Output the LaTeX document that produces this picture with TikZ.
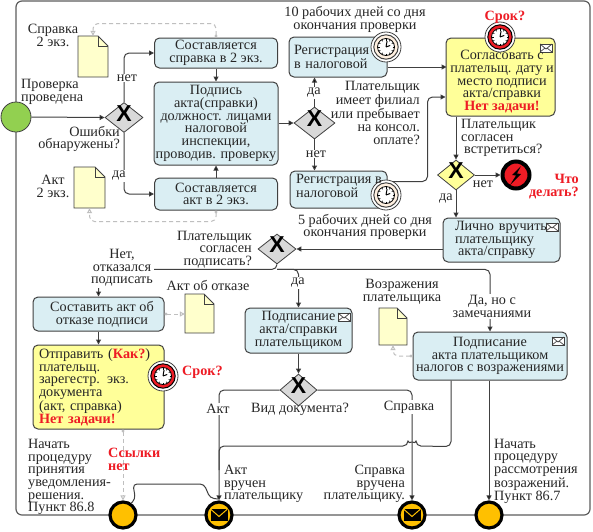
\documentclass[tikz,border=0pt]{standalone}
\usepackage{fontspec}
\setmainfont{Liberation Serif}
\newfontfamily\xfont{Liberation Sans}
\usetikzlibrary{shapes.geometric,arrows.meta,calc}
\definecolor{ln}{HTML}{404040}
\definecolor{tsk}{HTML}{DAEEF3}
\definecolor{yel}{HTML}{FFFF99}
\definecolor{docy}{HTML}{FFFFCC}
\definecolor{gat}{HTML}{D9D9D9}
\definecolor{amb}{HTML}{FFC000}
\definecolor{rd}{HTML}{EE1C25}
\definecolor{grn}{HTML}{92D050}
\definecolor{dsh}{HTML}{BFBFBF}
\newcommand\rtx[1]{\textcolor{rd}{\textbf{#1}}}
\newcommand\gwx{\raisebox{-.36em}[0pt][0pt]{\makebox[0pt]{\xfont\bfseries\fontsize{23}{23}\selectfont X}}}
\tikzset{
  base/.style={font=\fontsize{14.2}{12.7}\selectfont,text=black!85},
  tx/.style={base,inner sep=0pt,align=center},
  txl/.style={base,inner sep=0pt,align=left},
  txr/.style={base,inner sep=0pt,align=right},
  cut/.style={base,inner sep=1pt,align=center,fill=white},
  alrt/.style={base,inner sep=0pt},
  taskbox/.style={base,draw=ln,line width=1pt,rounded corners=5pt,fill=tsk,inner sep=0pt,align=center},
  yelbox/.style={taskbox,fill=yel},
  leftbox/.style={inner xsep=5pt,align=left},
  gway/.style={diamond,draw=ln,line width=.8pt,fill=gat,aspect=1.25,inner sep=0pt,minimum width=38pt,minimum height=30pt},
  ygway/.style={gway,fill=yel},
  flow/.style={draw=ln,line width=1pt,rounded corners=5pt,-{Triangle[length=5pt,width=5pt,fill=black]}},
  plain/.style={draw=ln,line width=1pt,rounded corners=5pt},
  assoc/.style={draw=dsh,line width=1pt,dash pattern=on 4pt off 3pt,rounded corners=5pt,
     {Circle[open,length=3pt,width=3pt,fill=white]}-{Triangle[open,length=5pt,width=5pt,fill=white]}},
  evt/.style={circle,draw=black,line width=3.2pt,fill=amb,minimum size=26pt,inner sep=0pt},
}
\newcommand\docic[5]{% name x0 y0 x1 y1
  \draw[ln,fill=docy,line width=.8pt,line join=miter] (#2,#3) -- ({#4-10},#3) -- (#4,{#3+10}) -- (#4,#5) -- (#2,#5) -- cycle;
  \draw[ln,line width=.8pt] ({#4-10},#3) -- ({#4-10},{#3+10}) -- (#4,{#3+10});
  \node[inner sep=0pt,minimum width={(#4-#2)*1pt},minimum height={(#5-#3)*1pt}] (#1) at ({(#2+#4)/2},{(#3+#5)/2}) {};}
\newcommand\envsm[2]{%
  \draw[ln,line width=.7pt,fill=white] ({#1-6},{#2-4}) rectangle ({#1+6},{#2+4});
  \draw[ln,line width=.7pt] ({#1-6},{#2-4}) -- (#1,{#2+1}) -- ({#1+6},{#2-4}) ({#1-6},{#2+4}) -- ({#1-1},{#2}) ({#1+6},{#2+4}) -- ({#1+1},{#2});}
\newcommand\envbig[2]{%
  \fill[black] ({#1-8.5},{#2-6}) rectangle ({#1+8.5},{#2+6});
  \draw[amb,line width=1pt] ({#1-8.5},{#2-6}) -- (#1,{#2+1.5}) -- ({#1+8.5},{#2-6});}
\newcommand\clockic[5]{% name x y ringfill ringdraw
  \node[circle,draw=ln,fill=white,line width=.8pt,minimum size=30pt,inner sep=0pt] (#1) at (#2,#3) {};
  \draw[#5,fill=#4,line width=1pt] (#2,#3) circle[radius=12.2pt];
  \draw[black,fill=white,line width=.8pt] (#2,#3) circle[radius=8.5pt];
  \foreach \a in {0,30,...,330} \draw[black,line width=.5pt] ($(#2,#3)+(\a:6.5pt)$) -- ($(#2,#3)+(\a:8.2pt)$);
  \draw[black,line width=1pt] (#2,#3) -- ++(80:6pt) (#2,#3) -- ++(20:4.5pt);}
\begin{document}
\begin{tikzpicture}[x=1pt,y=-1pt]
\useasboundingbox (0,0) rectangle (593,531);
\fill[white] (0,0) rectangle (593,531);
\draw[draw=ln!85,line width=1.2pt,rounded corners=6pt] (16,1) rectangle (590,515);

% events
\node[circle,draw=ln,line width=.8pt,fill=grn,minimum size=30pt,inner sep=0pt] (st) at (16,117) {};
\node[evt] (e1) at (123,515) {};
\node[evt] (e2) at (219,515) {};
\node[evt] (e3) at (412,515) {};
\node[evt] (e4) at (489,515) {};
\envbig{219}{515}
\envbig{412}{515}
\node[circle,draw=black,line width=4pt,fill=rd,minimum size=27pt,inner sep=0pt] (err) at (516,175) {};
\fill[black] (521,166) -- (512,175) -- (516,175.5) -- (510,185) -- (521,174) -- (517,173.5) -- cycle;

% gateways
\node[gway] (g1) at (124,117.5) {\gwx};
\node[gway,minimum width=41pt,minimum height=32pt] (g2) at (314.5,123) {\gwx};
\node[ygway,minimum width=37pt] (g3) at (456,175) {\gwx};
\node[gway] (g4) at (277,249) {\gwx};
\node[gway,minimum width=37pt,minimum height=32pt] (g5) at (298.5,390) {\gwx};

% tasks
\node[taskbox,minimum width=123pt,minimum height=30pt] (t1) at (216,53) {Составляется\\справка в 2 экз.};
\node[taskbox,minimum width=124pt,minimum height=83pt] (t2) at (216,123.5) {Подпись\\акта(справки)\\должност. лицами\\налоговой\\инспекции,\\проводив. проверку};
\node[taskbox,minimum width=123pt,minimum height=32pt] (t3) at (216,194) {Составляется\\акт в 2 экз.};
\node[taskbox,leftbox,text width=88pt,minimum height=40pt] (r1) at (338,57) {Регистрация\\в налоговой};
\node[taskbox,minimum width=97pt,minimum height=37pt] (r2) at (338.5,189.5) {};
\node[yelbox,minimum width=109pt,minimum height=78pt] (y1) at (500.5,77) {};
\node[taskbox,leftbox,inner xsep=12pt,text width=93pt,minimum height=44pt] (t4) at (501.5,240) {Лично вручить\\плательщику\\\hspace*{3pt}акта/справку};
\node[taskbox,minimum width=131pt,minimum height=34pt] (t5) at (98.5,314) {\hspace*{7pt}Составить акт об\\\hspace*{7pt}отказе подписи};
\node[yelbox,leftbox,inner xsep=6pt,text width=119pt,minimum height=84pt] (y2) at (98.5,387) {Отправить (\rtx{Как?})\\плательщ.\\зарегестр. экз.\\документа\\(акт, справка)\\\rtx{Нет задачи!}};
\node[taskbox,minimum width=107pt,minimum height=45pt] (t6) at (298.5,330.5) {Подписание\\акта/справки\\плательщиком};
\node[taskbox,minimum width=154pt,minimum height=48pt] (t7) at (490,356) {Подписание\\акта плательщиком\\налогов с возражениями};

% documents
\docic{d1}{78}{36}{108}{77}
\docic{d2}{74}{167}{105}{208}
\docic{d3}{185}{294}{214}{333}
\docic{d4}{379}{308}{407}{345}

% connectors
\draw[flow] (st.east) -- (g1.west);
\draw[flow] (g1.north) |- (t1.west);
\draw[flow] (g1.south) |- (t3.west);
\draw[flow] (t1.south) -- (t2.north);
\draw[flow] (t3.north) -- (t2.south);
\draw[flow] (t2.east|-g2.west) -- (g2.west);
\draw[flow] (g2.north) -- (g2.north|-r1.south);
\draw[flow] (g2.south) -- (g2.south|-r2.north);
\draw[flow] (r1.east|-y1.west) ++(0,-10) -- ++(59,0);
\draw[flow] ([yshift=8]r2.east) -- ++(40,0) |- ([yshift=-20]y1.west);
\draw[flow] (y1.south-|g3.north) -- (g3.north);
\draw[flow] (g3.east) -- (err.west);
\draw[flow] (g3.south) -- (g3.south|-t4.north);
\draw[flow] ([yshift=-9]t4.west) -- (g4.east);
\draw[flow] (g4.south) -- ++(0,5) -| (t5.north);
\draw[flow] (g4.south) ++(0,5) -| (t6.north);
\draw[flow] (g4.south) ++(0,5) -| (t7.north);
\draw[flow] (t5.south) -- (t5.south|-y2.north);
\draw[flow] (t6.south) -- (g5.north);
\draw[flow] (g5.west) -| (e2.north);
\draw[flow] (g5.east) -| (e3.north);
\draw[flow] (e4.north|-t7.south) -- (e4.north);
\draw[plain] ([xshift=-39]t7.south) -- ++(0,66) -- (416,446) arc[start angle=0,end angle=180,radius=4pt] -- (219,446) -- (219,470);
\draw[plain,rounded corners=4pt] (e1.55) -- ++(4,-4) -- (133,484) -- (204,484) -- (210,498) -- (218,499);
\draw[assoc] (t1.north) -- ++(0,-14) -| (d1.north);
\draw[assoc] (t3.south) -- ++(0,11) -| (d2.south);
\draw[assoc] (t5.east) -- (d3.west|-t5.east);
\draw[assoc] (t7.west) -| (d4.south);
\draw[assoc] (y2.south-|e1.north) -- (e1.north);

% icons
\clockic{c1}{386}{47}{orange!12}{ln}
\clockic{c2}{386}{195}{orange!12}{ln}
\clockic{c3}{500}{37}{rd}{black}
\clockic{c4}{163}{376}{rd}{black}
\envsm{546}{48}
\envsm{552}{227}
\envsm{344}{317}
\envsm{558}{341}

% labels
\node[txl,anchor=north west] (r2t) at (296,174) {Регистрация в\\налоговой};
\node[tx,anchor=north] (y1t) at (502,50) {Согласовать с\\плательщ. дату и\\место подписи\\акта/справки\\\rtx{Нет задачи!}};
\node[txl,anchor=west] (lb1) at (21,92) {Проверка\\проведена};
\node[tx] (lb2) at (53,35.5) {Справка\\2 экз.};
\node[tx] (lb3) at (53,186.5) {Акт\\2 экз.};
\node[cut] (lb4) at (127,78) {нет};
\node[cut] (lb5) at (119,176) {да};
\node[txr,anchor=east] (lb6) at (120,139) {Ошибки\\обнаружены?};
\node[tx] (lb7) at (355,19.5) {10 рабочих дней со дня\\окончания проверки};
\node[tx] (lb8) at (365,227) {5 рабочих дней со дня\\окончания проверки};
\node[cut] (lb9) at (314,93) {да};
\node[cut] (lb10) at (316,154) {нет};
\node[txr,anchor=east] (lb11) at (420,113) {Плательщик\\имеет филиал\\или пребывает\\на консол.\\оплате?};
\node[alrt] (lb12) at (505,17) {\rtx{Срок?}};
\node[txl,anchor=west] (lb13) at (461,138) {Плательщик\\согласен\\\hspace*{3pt}встретиться?};
\node[tx] (lb14) at (483,184) {нет};
\node[cut] (lb15) at (446,199) {да};
\node[txr,anchor=east] (lb16) at (579,186.5) {\rtx{Что}\\\rtx{делать?}};
\node[txr,anchor=east] (lb17) at (252,249.5) {Плательщик\\согласен\\подписать?};
\node[cut] (lb18) at (122,268) {Нет,\\отказался\\подписать};
\node[cut] (lb21) at (298,283) {да};
\node[tx] (lb22) at (208,285) {Акт об отказе};
\node[tx] (lb23) at (402,291.5) {Возражения\\плательщика};
\node[cut] (lb24) at (492,306.5) {Да, но с\\замечаниями};
\node[alrt,anchor=west] (lb25) at (182,372) {\rtx{Срок?}};
\node[txl,anchor=west] (lb26) at (108,459.5) {\rtx{Ссылки}\\\rtx{нет}};
\node[txl,anchor=west] (lb27) at (28,477) {Начать\\процедуру\\принятия\\уведомления-\\решения.\\Пункт 86.8};
\node[cut] (lb28) at (218,409) {Акт};
\node[tx] (lb29) at (300,409) {Вид документа?};
\node[cut] (lb30) at (409,407) {Справка};
\node[txl,anchor=west] (lb31) at (224,484) {Акт\\вручен\\плательщику};
\node[txr,anchor=east] (lb32) at (405,484) {Справка\\вручена\\плательщику.};
\node[txl,anchor=west] (lb33) at (494,471) {Начать\\процедуру\\рассмотрения\\возражений.\\Пункт 86.7};
\end{tikzpicture}
\end{document}
